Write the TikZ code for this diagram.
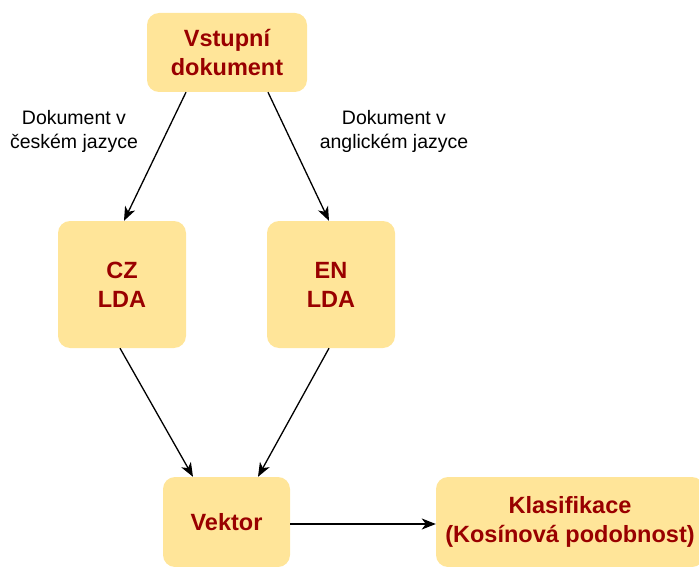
\documentclass[tikz,border=0pt]{standalone}
\usepackage{fontspec}
\setmainfont{Liberation Sans}
\usetikzlibrary{arrows.meta,calc}
\definecolor{boxfill}{HTML}{FFE599}
\definecolor{boxtext}{HTML}{990000}
\begin{document}
\begin{tikzpicture}[x=1pt,y=-1pt,
  box/.style={draw=none,fill=boxfill,rounded corners=12pt,text=boxtext,align=center,
    font=\fontsize{23.5}{29}\selectfont\bfseries,inner sep=0pt},
  lbl/.style={align=center,font=\fontsize{19.5}{24}\selectfont,text=black,inner sep=0pt},
  arr/.style={draw=black,line width=1.3pt,-{Stealth[length=14pt,width=11pt,inset=4pt]}}]
\useasboundingbox (0,0) rectangle (699,567);
\node[box,minimum width=160pt,minimum height=79pt] (vst) at (227,52.5) {Vstupní\\dokument};
\node[box,minimum width=128pt,minimum height=127pt] (cz) at (122,284.5) {CZ\\LDA};
\node[box,minimum width=128pt,minimum height=127pt] (en) at (331,284.5) {EN\\LDA};
\node[box,minimum width=127pt,minimum height=90pt] (vek) at (226.5,522) {Vektor};
\node[box,minimum width=268pt,minimum height=90pt] (kla) at (570,522) {Klasifikace\\(Kosínová podobnost)};
\node[lbl] (lcz) at (74,131) {Dokument v\\českém jazyce};
\node[lbl] (len) at (394,131) {Dokument v\\anglickém jazyce};
\draw[arr] ([xshift=-41pt]vst.south) -- ([xshift=2pt]cz.north);
\draw[arr] ([xshift=41pt]vst.south) -- ([xshift=-2pt]en.north);
\draw[arr] ([xshift=-2pt]cz.south) -- ([xshift=-33.5pt]vek.north);
\draw[arr] ([xshift=-2pt]en.south) -- ([xshift=31.5pt]vek.north);
\draw[arr] ([yshift=-2pt]vek.east) -- ([yshift=-2pt]kla.west);
\end{tikzpicture}
\end{document}
